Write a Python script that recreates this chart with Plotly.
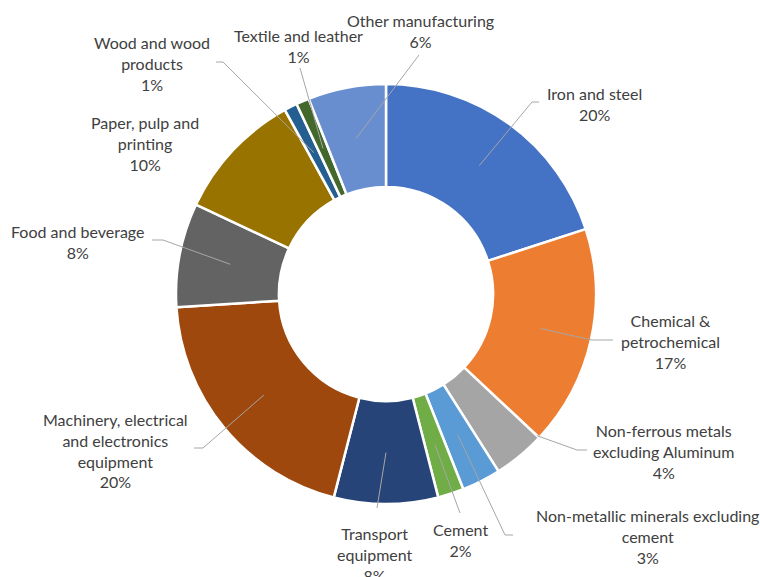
import math
import plotly.graph_objects as go

# Industry share of energy consumption (percent)
sectors = [
    "Iron and steel",
    "Chemical & petrochemical",
    "Non-ferrous metals excluding Aluminum",
    "Non-metallic minerals excluding cement",
    "Cement",
    "Transport equipment",
    "Machinery, electrical and electronics equipment",
    "Food and beverage",
    "Paper, pulp and printing",
    "Wood and wood products",
    "Textile and leather",
    "Other manufacturing",
]
shares = [20, 17, 4, 3, 2, 8, 20, 8, 10, 1, 1, 6]

# Label text as wrapped lines
label_lines = [
    "Iron and steel",
    "Chemical &<br>petrochemical",
    "Non-ferrous metals<br>excluding Aluminum",
    "Non-metallic minerals excluding<br>cement",
    "Cement",
    "Transport<br>equipment",
    "Machinery, electrical<br>and electronics<br>equipment",
    "Food and beverage",
    "Paper, pulp and<br>printing",
    "Wood and wood<br>products",
    "Textile and leather",
    "Other manufacturing",
]

colors = [
    "#4472C4", "#ED7D31", "#A5A5A5", "#5B9BD5", "#70AD47", "#264478",
    "#9E480E", "#636363", "#997300", "#255E91", "#43682B", "#698ED0",
]

# ---- layout geometry (pixels) ----
W, H = 760, 577
CX, CY, R = 386, 294, 210
HOLE = 0.51
R_MID = R * (1 + HOLE) / 2

# label block centres
label_pos = [
    (594, 104), (670, 341), (663, 451), (647, 536), (460, 540), (375, 554),
    (115, 450), (78, 242), (145, 143), (152, 63), (298, 46), (420, 31),
]
# leader lines: (anchor fraction along slice, anchor radius), elbow, tail (or None)
leaders = [
    ((0.5, R_MID), (532, 102), (539, 102)),
    ((0.5, R_MID), (592, 340), (613, 340)),
    ((0.0, R * 0.985), (577, 450), (587, 450)),
    ((0.5, R_MID), (505, 535), (513, 535)),
    ((0.5, R_MID), (460, 513), None),
    ((0.5, R_MID), (377, 508), None),
    ((0.5, R_MID), (203, 448), (194, 448)),
    ((0.5, R_MID), (163, 240), (152, 240)),
    None,
    ((0.5, R_MID), (223, 62), (216, 62)),
    ((0.5, R_MID), (300, 68), None),
    ((0.5, R_MID), (419, 55), None),
]

total = sum(shares)
fig = go.Figure()

fig.add_trace(go.Pie(
    labels=sectors,
    values=shares,
    hole=HOLE,
    sort=False,
    direction="clockwise",
    rotation=0,
    marker=dict(colors=colors, line=dict(color="white", width=2.5)),
    textinfo="none",
    hoverinfo="skip",
    showlegend=False,
    domain=dict(
        x=[(CX - R) / W, (CX + R) / W],
        y=[(H - CY - R) / H, (H - CY + R) / H],
    ),
))

# an invisible cartesian trace so the pixel-space axes exist
fig.add_trace(go.Scatter(x=[0, W], y=[0, H], mode="markers",
                         marker=dict(opacity=0), hoverinfo="skip", showlegend=False))

# leader lines from slice interior to labels, drawn above the ring
cum = 0.0
for i, v in enumerate(shares):
    start_frac = cum / total
    cum += v
    end_frac = cum / total
    spec = leaders[i]
    if spec is None:
        continue
    (pos, rad), elbow, tail = spec
    ang = 2 * math.pi * (start_frac + pos * (end_frac - start_frac))
    sx = CX + rad * math.sin(ang)
    sy = CY - rad * math.cos(ang)
    path = f"M{sx:.2f},{sy:.2f} L{elbow[0]},{elbow[1]}"
    if tail is not None:
        path += f" L{tail[0]},{tail[1]}"
    fig.add_shape(type="path", path=path, xref="x", yref="y", layer="above",
                  line=dict(color="#A6A6A6", width=1))

# data labels: name and rounded percentage
for i, v in enumerate(shares):
    pct = round(100 * v / total)
    fig.add_annotation(
        x=label_pos[i][0], y=label_pos[i][1],
        xref="x", yref="y",
        text=f"{label_lines[i]}<br>{pct}%",
        showarrow=False,
        xanchor="center", yanchor="middle", align="center",
        font=dict(family="Lato, 'Liberation Sans', sans-serif", size=16, color="#404040"),
    )

fig.update_layout(
    width=W, height=H,
    margin=dict(l=0, r=0, t=0, b=0),
    paper_bgcolor="white", plot_bgcolor="rgba(0,0,0,0)",
    xaxis=dict(range=[0, W], visible=False, fixedrange=True),
    yaxis=dict(range=[H, 0], visible=False, fixedrange=True),
)

fig.write_html("out.html")
